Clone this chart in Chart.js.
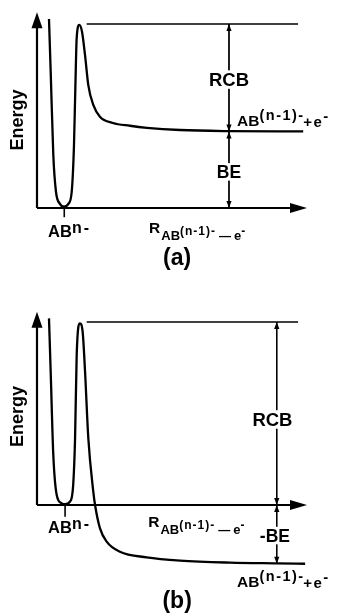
<!DOCTYPE html>
<html><head><meta charset="utf-8">
<script src="https://cdn.jsdelivr.net/npm/chart.js@4.4.1/dist/chart.umd.min.js"></script>
<style>
html,body{margin:0;padding:0;background:#fff;width:339px;height:614px;overflow:hidden}
canvas{position:absolute;left:0}
#ca{top:0}
#cb{top:300px}
</style></head><body>
<canvas id="ca" width="339" height="300"></canvas>
<canvas id="cb" width="339" height="314"></canvas>
<script>
// ---- Panel (a): bound anion, barrier above the detachment asymptote ----
const curveA_R = [4.44,5.07,6.04,7.04,8.52,10.0,11.6,12.85,13.7,14.2,14.7,15.67,16.67,17.78,19.0,20.85,23.3,28.1,34.4,40.7,53.0,70.7,98.6];
const curveA_E = [102.7,74.1,28.8,8.7,2.2,0.7,2.2,8.7,34.2,65.2,92.4,99.5,95.8,83.2,66.8,56.0,49.6,46.2,44.7,43.6,42.4,41.8,41.6];
const barrierA = 100;      // top of repulsive Coulomb barrier
const asymptoteA = 41.6;   // AB(n-1)- + e- level
const levelA = [barrierA, asymptoteA, 0];

// ---- Panel (b): metastable anion, asymptote below the minimum ----
const curveB_R = [4.44,5.07,6.04,7.3,9.15,10.4,12.2,13.4,14.1,14.7,15.9,16.9,17.8,19.0,20.85,21.5,23.3,25.8,30.7,40.6,53.0,71.5,88.8,99.3];
const curveB_E = [102.0,72.8,27.3,5.5,0.9,0.4,1.8,10.9,36.6,82.0,99.3,94.7,72.8,36.6,7.3,0.0,-12.6,-20.0,-25.5,-28.6,-30.4,-31.5,-31.9,-32.1];
const barrierB = 100;
const asymptoteB = -32.1;
const levelB = [barrierB, 0, asymptoteB];

// barrier reference line span (R units)
const barrierLineR = [18.4, 96.7];

const FAM = "'Liberation Sans', Arial, Helvetica, sans-serif";

function pts(R, E){ return R.map((r,i)=>({x:r, y:E[i]})); }
function lineDS(data, w, extra){
  return Object.assign({data, showLine:true, borderColor:'#000', backgroundColor:'#000',
    borderWidth:w, pointRadius:0, fill:false, clip:false, tension:0}, extra||{});
}

function tri(ctx, tx, ty, dir, len, hw){
  ctx.beginPath(); ctx.moveTo(tx,ty);
  if(dir==='up'){ctx.lineTo(tx-hw,ty+len);ctx.lineTo(tx+hw,ty+len);}
  else if(dir==='down'){ctx.lineTo(tx-hw,ty-len);ctx.lineTo(tx+hw,ty-len);}
  else {ctx.lineTo(tx-len,ty-hw);ctx.lineTo(tx-len,ty+hw);}
  ctx.closePath(); ctx.fill();
}
function setFont(ctx, s){
  ctx.font = `bold ${s.size}px ${FAM}`;
  if('letterSpacing' in ctx) ctx.letterSpacing = (s.ls||0)+'px';
}
function measure(ctx, segs){
  let w=0;
  segs.forEach(s=>{setFont(ctx,s); s.w=ctx.measureText(s.t).width+(s.gap||0); w+=s.w;});
  return w;
}
function rich(ctx, x, y, segs, align){
  const w = measure(ctx, segs);
  let cx = align==='center' ? x-w/2 : x;
  segs.forEach(s=>{setFont(ctx,s); ctx.fillText(s.t, cx, y+(s.dy||0)); cx+=s.w;});
  if('letterSpacing' in ctx) ctx.letterSpacing='0px';
  return w;
}

const decor = {
  id:'decor',
  afterDatasetsDraw(chart){
    const o = chart.options.plugins.decor;
    const ctx = chart.ctx, xs = chart.scales.x, ys = chart.scales.y;
    const X = v=>xs.getPixelForValue(v), Y = v=>ys.getPixelForValue(v);
    ctx.save();
    ctx.fillStyle='#000'; ctx.strokeStyle='#000';
    tri(ctx, X(0), Y(o.yTip), 'up', 16, 5.5);
    tri(ctx, X(o.xTip), Y(0), 'right', 17, 5);
    ctx.lineWidth=1.6; ctx.beginPath(); ctx.moveTo(X(o.tickR), Y(0)); ctx.lineTo(X(o.tickR), Y(o.tickEnd)); ctx.stroke();
    const L=o.levels;
    for(let i=0;i<L.length-1;i++){
      tri(ctx, X(o.arrowR), Y(L[i]), 'up', 7, 2.6);
      tri(ctx, X(o.arrowR), Y(L[i+1]), 'down', 7, 2.6);
    }
    ctx.textBaseline='alphabetic'; ctx.textAlign='left';
    o.labels.forEach(l=>{
      const x=X(l.r), y=Y(l.e);
      if(l.rotate){
        ctx.save(); ctx.translate(x,y); ctx.rotate(-Math.PI/2);
        ctx.textBaseline='middle';
        rich(ctx, 0, 0, l.segs, 'center');
        ctx.restore(); return;
      }
      if(l.mask){
        const w=measure(ctx,l.segs);
        const x0 = l.align==='center'? x-w/2 : x;
        ctx.fillStyle='#fff'; ctx.fillRect(x0-2, y-l.segs[0].size*0.85, w+4, l.segs[0].size*1.0);
        ctx.fillStyle='#000';
      }
      rich(ctx, x, y, l.segs, l.align);
    });
    ctx.restore();
  }
};

function makeChart(id, cfg){
  const datasets = [
    lineDS(pts(cfg.curveR, cfg.curveE), 2.3, {cubicInterpolationMode:'monotone'}),
    lineDS([{x:barrierLineR[0], y:cfg.barrier},{x:barrierLineR[1], y:cfg.barrier}], 1.3),
    lineDS(cfg.levels.map(v=>({x:cfg.arrowR, y:v})), 1),
    lineDS([{x:0,y:0},{x:0,y:cfg.yTip-4}], 2.2),
    lineDS([{x:0,y:0},{x:cfg.xTip-4,y:0}], 2.2)
  ];
  return new Chart(document.getElementById(id), {
    type:'scatter',
    data:{datasets},
    options:{
      responsive:false, animation:false, devicePixelRatio:1, events:[],
      layout:{padding:cfg.padding},
      plugins:{legend:{display:false}, tooltip:{enabled:false},
        decor:{yTip:cfg.yTip, xTip:cfg.xTip, tickR:cfg.tickR, tickEnd:cfg.tickEnd,
          arrowR:cfg.arrowR, levels:cfg.levels, labels:cfg.labels}},
      scales:{
        x:{type:'linear', min:0, max:100, display:false},
        y:{type:'linear', min:cfg.yMin, max:cfg.yMax, display:false}
      }
    },
    plugins:[decor]
  });
}

const productLabel = () => [
  {t:'AB', size:15.5},
  {t:'(n-1)', size:14.5, dy:-6, ls:1.5},
  {t:'-', size:14.5, dy:-6},
  {t:'+e', size:15, dy:1, ls:1.5},
  {t:'-', size:15, dy:-5}
];
const coordLabel = () => [
  {t:'R', size:15.5, gap:1},
  {t:'AB', size:13, dy:7},
  {t:'(n-1)', size:12, dy:2, ls:1},
  {t:'-', size:12, dy:2, gap:4},
  {t:'\u2014', size:12, dy:7, gap:3},
  {t:'e', size:13, dy:7},
  {t:'-', size:12, dy:2}
];
const anionLabel = () => [{t:'AB', size:16.5},{t:'n-', size:16, dy:-4, ls:2}];

makeChart('ca', {
  curveR:curveA_R, curveE:curveA_E, barrier:barrierA, levels:levelA,
  yMin:0, yMax:108, padding:{left:37, right:32, top:9.28, bottom:92},
  yTip:106.4, xTip:100, tickR:10.1, tickEnd:-5, arrowR:71.1,
  labels:[
    {r:-7.0, e:47.8, rotate:true, segs:[{t:'Energy', size:18}]},
    {r:71.1, e:66.3, align:'center', mask:true, segs:[{t:'RCB', size:18.5}]},
    {r:71.1, e:16.3, align:'center', mask:true, segs:[{t:'BE', size:17.5}]},
    {r:74.1, e:44.8, segs:productLabel()},
    {r:4.1, e:-15.8, segs:anionLabel()},
    {r:41.5, e:-13.75, segs:coordLabel()},
    {r:51.9, e:-31, align:'center', segs:[{t:'(a)', size:23}]}
  ]
});

makeChart('cb', {
  curveR:curveB_R, curveE:curveB_E, barrier:barrierB, levels:levelB,
  yMin:-40, yMax:108, padding:{left:37, right:32, top:7.36, bottom:35.8},
  yTip:105.6, xTip:100, tickR:10.4, tickEnd:-6.4, arrowR:88.8,
  labels:[
    {r:-7.0, e:48.3, rotate:true, segs:[{t:'Energy', size:18}]},
    {r:87.2, e:43.2, align:'center', mask:true, segs:[{t:'RCB', size:18.5}]},
    {r:88.1, e:-20.05, align:'center', mask:true, segs:[{t:'-BE', size:17.5}]},
    {r:74.1, e:-44.6, segs:productLabel()},
    {r:4.1, e:-15.5, segs:anionLabel()},
    {r:41.2, e:-11.9, segs:coordLabel()},
    {r:51.9, e:-56.3, align:'center', segs:[{t:'(b)', size:23}]}
  ]
});
</script>
</body></html>
